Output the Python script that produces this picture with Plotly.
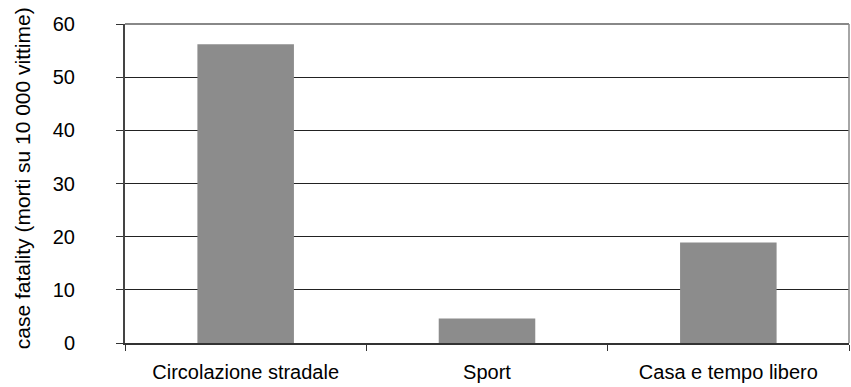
import plotly.graph_objects as go

categories = ["Circolazione stradale", "Sport", "Casa e tempo libero"]
values = [56.2, 4.6, 18.9]
y_ticks = [0, 10, 20, 30, 40, 50, 60]
y_title = "case fatality (morti su 10 000 vittime)"

fig = go.Figure()
fig.add_trace(go.Bar(x=categories, y=values, marker=dict(color="#8c8c8c", line=dict(width=0)),
                     width=0.4))

font = dict(family="Liberation Sans, Arial, sans-serif", size=20, color="black")

fig.update_layout(
    width=851, height=387,
    margin=dict(l=125, r=2, t=24, b=44),
    paper_bgcolor="white", plot_bgcolor="white",
    font=font,
    showlegend=False,
    xaxis=dict(type="category", tickson="boundaries", ticks="outside", ticklen=6,
               tickcolor="#333333", tickwidth=1, showline=True, linecolor="#333333", linewidth=2,
               showgrid=False, ticklabelstandoff=10, tickfont=font, automargin=False),
    yaxis=dict(range=[0, 60], tickvals=y_ticks, ticks="outside", ticklen=7, tickcolor="#333333",
               showline=True, linecolor="#444444", linewidth=2, showgrid=True, gridcolor="#222222",
               gridwidth=1, zeroline=False, ticklabelstandoff=37, tickfont=font, automargin=False),
    annotations=[dict(text=y_title, xref="paper", yref="paper", x=-0.142, y=0.517,
                      xanchor="center", yanchor="middle", textangle=-90, showarrow=False,
                      font=dict(family="Liberation Sans, Arial, sans-serif", size=21, color="black"))],
    shapes=[
        dict(type="line", xref="paper", yref="paper", x0=0, x1=1, y0=1, y1=1,
             line=dict(color="#888888", width=2)),
        dict(type="line", xref="paper", yref="paper", x0=1, x1=1, y0=0, y1=1,
             line=dict(color="#888888", width=1.5)),
    ],
)

fig.write_html(
    "out.html",
    config={"responsive": False, "displayModeBar": False},
    post_script="document.body.style.margin='0';document.body.style.padding='0';"
                "document.body.style.overflow='hidden';"
                "document.documentElement.style.overflow='hidden';",
)
